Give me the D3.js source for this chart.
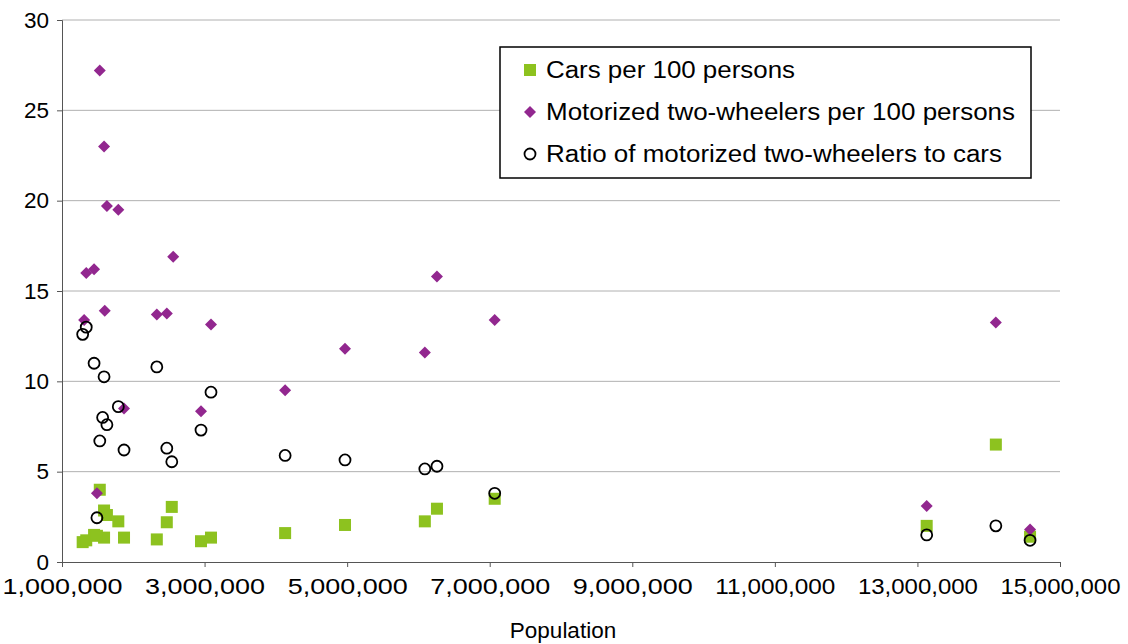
<!DOCTYPE html><html><head><script src="https://cdn.jsdelivr.net/npm/d3@7"></script>
<style>body{margin:0;background:#fff}text{font-family:"Liberation Sans",Arial,sans-serif}</style></head><body>
<svg id="c" width="1128" height="644"></svg>
<script>
const pops=[1.31,1.34,1.45,1.53,1.59,1.60,1.63,1.79,1.87,1.49,2.33,2.47,2.56,2.95,3.09,4.13,4.97,6.09,6.26,7.07,13.13,14.10,14.58];
const twoWheelers=[13.4,16.0,16.2,27.2,23.0,13.9,19.7,19.5,8.5,3.8,13.7,13.75,16.9,8.35,13.15,9.5,11.8,11.6,15.8,13.4,3.1,13.25,1.8];
const ratioPops=[1.29,1.34,1.45,1.59,1.53,1.57,1.63,1.79,1.87,1.49,2.33,2.47,2.54,2.95,3.09,4.13,4.97,6.09,6.26,7.07,13.13,14.10,14.58];
const ratios=[12.6,13.0,11.0,10.25,6.7,8.0,7.6,8.6,6.2,2.45,10.8,6.3,5.55,7.3,9.4,5.9,5.65,5.15,5.3,3.8,1.5,2.0,1.2];
const carPops=[1.29,1.34,1.45,1.53,1.59,1.59,1.63,1.79,1.87,1.49,2.33,2.47,2.54,2.95,3.09,4.13,4.97,6.09,6.26,7.07,13.13,14.10,14.58];
const cars=[1.1,1.2,1.5,4.0,2.85,1.35,2.6,2.25,1.35,1.45,1.25,2.2,3.05,1.15,1.35,1.6,2.05,2.25,2.95,3.5,2.0,6.5,1.4];
const xTicks=[1e6,3e6,5e6,7e6,9e6,11e6,13e6,15e6];
const yTicks=[0,5,10,15,20,25,30];
const svg=d3.select("#c");
const x=d3.scaleLinear().domain([1e6,15e6]).range([62,1060]);
const y=d3.scaleLinear().domain([0,30]).range([562,20]);
svg.append("g").selectAll("line").data(yTicks.slice(1)).join("line")
 .attr("x1",62).attr("x2",1060).attr("y1",y).attr("y2",y).attr("stroke","#b0b0b0");
const ya=svg.append("g").attr("transform","translate(62,0)").call(d3.axisLeft(y).tickValues(yTicks).tickSize(5).tickPadding(8));
const xa=svg.append("g").attr("transform","translate(0,562)").call(d3.axisBottom(x).tickValues(xTicks).tickSize(5).tickFormat(d3.format(",")));
[ya,xa].forEach(a=>{a.selectAll("text").attr("font-size",22.5).attr("fill","#000").attr("font-family","Liberation Sans");a.selectAll("path,line").attr("stroke","#555")});
xa.selectAll("text").attr("dy","1.05em").attr("textLength",120).attr("lengthAdjust","spacingAndGlyphs");
svg.append("text").attr("x",563).attr("y",638).attr("text-anchor","middle").attr("font-size",22.5).text("Population");
const g=svg.append("g");
g.selectAll(".car").data(cars).join("rect").attr("x",(d,i)=>x(carPops[i]*1e6)-6).attr("y",d=>y(d)-6).attr("width",12).attr("height",12).attr("fill","#8dc21f");
const dia=d3.symbol().type(d3.symbolSquare).size(72);
g.selectAll(".tw").data(twoWheelers).join("path").attr("d",dia).attr("transform",(d,i)=>`translate(${x(pops[i]*1e6)},${y(d)}) rotate(45)`).attr("fill","#92278f");
g.selectAll(".r").data(ratios).join("circle").attr("cx",(d,i)=>x(ratioPops[i]*1e6)).attr("cy",d=>y(d)).attr("r",5.5).attr("fill","none").attr("stroke","#000").attr("stroke-width",1.8);
const L=svg.append("g");
L.append("rect").attr("x",500).attr("y",47).attr("width",531).attr("height",131).attr("fill","#fff").attr("stroke","#000").attr("stroke-width",1.5);
const items=["Cars per 100 persons","Motorized two-wheelers per 100 persons","Ratio of motorized two-wheelers to cars"];
const itemW=[249,469,456];
items.forEach((t,i)=>{const cy=70+i*42;
 if(i==0)L.append("rect").attr("x",524).attr("y",cy-6).attr("width",12).attr("height",12).attr("fill","#8dc21f");
 if(i==1)L.append("path").attr("d",dia).attr("transform",`translate(530,${cy}) rotate(45)`).attr("fill","#92278f");
 if(i==2)L.append("circle").attr("cx",530).attr("cy",cy).attr("r",5.5).attr("fill","none").attr("stroke","#000").attr("stroke-width",1.8);
 L.append("text").attr("x",546).attr("y",cy+8).attr("font-size",23).attr("textLength",itemW[i]).attr("lengthAdjust","spacingAndGlyphs").text(t);});
</script></body></html>
